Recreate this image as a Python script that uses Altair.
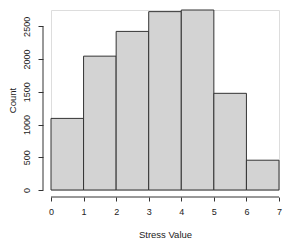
import altair as alt
import pandas as pd

bin_start = [0, 1, 2, 3, 4, 5, 6]
bin_end = [1, 2, 3, 4, 5, 6, 7]
counts = [1094, 2045, 2423, 2725, 2750, 1477, 455]
x_ticks = [0, 1, 2, 3, 4, 5, 6, 7]
y_ticks = [0, 500, 1000, 1500, 2000, 2500]

df = pd.DataFrame({"start": bin_start, "end": bin_end, "count": counts})
xl = pd.DataFrame({"start": [x_ticks[0]], "end": [x_ticks[-1]]})
yl = pd.DataFrame({"count": [y_ticks[0]], "top": [y_ticks[-1]]})

FONT = "Liberation Sans"
W, H = 228, 180

xscale = alt.Scale(domain=[0, 7], nice=False, zero=False)
yscale = alt.Scale(domain=[0, 2750], nice=False)

xaxis = alt.Axis(title="Stress Value", values=x_ticks, format="d", offset=7, domain=False,
                 tickSize=4, tickColor="#333333", labelPadding=6, labelOverlap=False,
                 labelFont=FONT, labelFontSize=9, labelColor="#222222",
                 titleFont=FONT, titleFontSize=9.5, titleFontWeight="normal",
                 titleColor="#222222", titlePadding=13, grid=False, labelFlush=False)
yaxis = alt.Axis(title="Count", values=y_ticks, format="d", offset=8, domain=False,
                 tickSize=5, tickColor="#333333", labelPadding=7, labelOverlap=False,
                 labelAngle=-90, labelAlign="center", labelBaseline="bottom",
                 labelFont=FONT, labelFontSize=9, labelColor="#222222",
                 titleFont=FONT, titleFontSize=9.5, titleFontWeight="normal",
                 titleColor="#222222", titlePadding=5, grid=False, labelFlush=False)

bars = alt.Chart(df).mark_rect(fill="#D3D3D3", stroke="#333333", strokeWidth=1).encode(
    x=alt.X("start:Q", scale=xscale, axis=xaxis),
    x2="end:Q",
    y=alt.Y("count:Q", scale=yscale, axis=yaxis),
    y2=alt.datum(0),
)

xline = alt.Chart(xl).mark_rule(color="#333333", strokeWidth=1).encode(
    x=alt.X("start:Q", scale=xscale, axis=xaxis), x2="end:Q", y=alt.value(H + 7)
)
yline = alt.Chart(yl).mark_rule(color="#333333", strokeWidth=1).encode(
    y=alt.Y("count:Q", scale=yscale, axis=yaxis), y2="top:Q", x=alt.value(-8)
)

chart = alt.layer(bars, xline, yline).properties(
    width=W, height=H,
    autosize=alt.AutoSizeParams(type="none"),
    padding={"left": 43, "top": 2, "right": 10, "bottom": 51},
).configure_view(strokeWidth=0).configure(background="white")

chart.save("out.html", embed_options={"renderer": "svg", "actions": False})
